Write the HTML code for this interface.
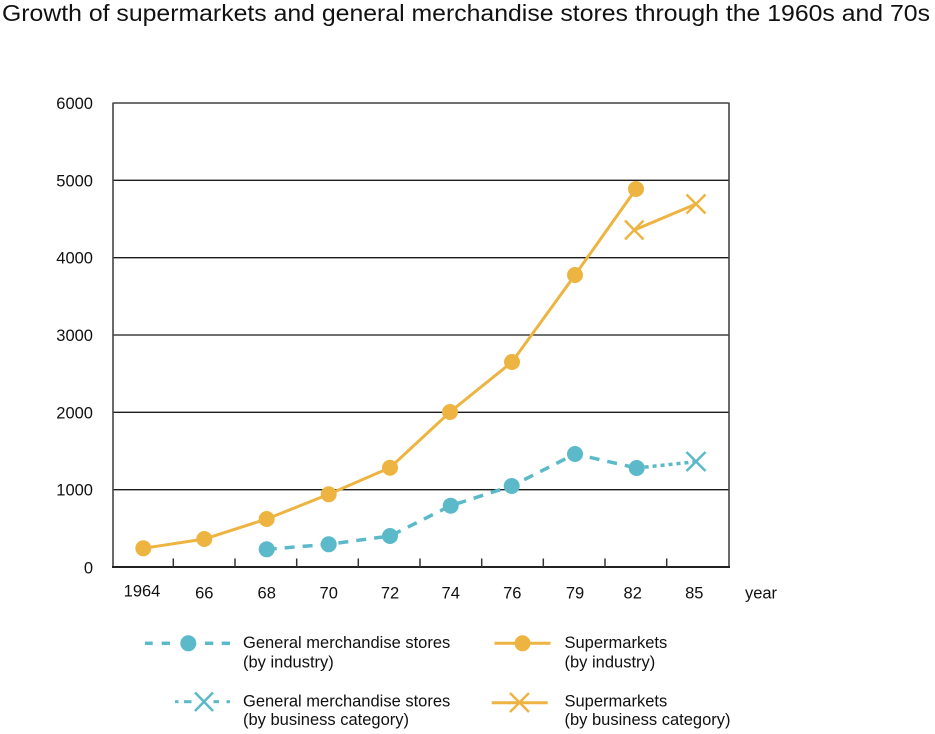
<!DOCTYPE html>
<html>
<head>
<meta charset="utf-8">
<style>
  html, body { margin: 0; padding: 0; background: #fff; }
  svg { display: block; }
  text { font-family: "Liberation Sans", Arial, sans-serif; fill: #111; }
</style>
</head>
<body>
<svg width="935" height="734" viewBox="0 0 935 734" xmlns="http://www.w3.org/2000/svg">
  <rect x="0" y="0" width="935" height="734" fill="#fff"/>
  <!-- Title -->
  <text x="2" y="21" font-size="23" textLength="928" lengthAdjust="spacingAndGlyphs">Growth of supermarkets and general merchandise stores through the 1960s and 70s</text>

  <!-- Grid lines -->
  <g stroke="#1a1a1a" stroke-width="1.3">
    <line x1="113" y1="103" x2="729" y2="103"/>
    <line x1="113" y1="180.3" x2="729" y2="180.3"/>
    <line x1="113" y1="257.7" x2="729" y2="257.7"/>
    <line x1="113" y1="335" x2="729" y2="335"/>
    <line x1="113" y1="412.3" x2="729" y2="412.3"/>
    <line x1="113" y1="489.7" x2="729" y2="489.7"/>
  </g>
  <!-- Frame sides -->
  <g stroke="#444" stroke-width="1.6">
    <line x1="113" y1="102.5" x2="113" y2="567"/>
    <line x1="729" y1="102.5" x2="729" y2="567"/>
  </g>
  <!-- Bottom axis -->
  <line x1="112" y1="567" x2="730" y2="567" stroke="#222" stroke-width="2"/>
  <!-- Ticks -->
  <g stroke="#333" stroke-width="1.5">
    <line x1="173.3" y1="567" x2="173.3" y2="558.5"/>
    <line x1="235" y1="567" x2="235" y2="558.5"/>
    <line x1="296.7" y1="567" x2="296.7" y2="558.5"/>
    <line x1="358.3" y1="567" x2="358.3" y2="558.5"/>
    <line x1="420" y1="567" x2="420" y2="558.5"/>
    <line x1="481.7" y1="567" x2="481.7" y2="558.5"/>
    <line x1="543.3" y1="567" x2="543.3" y2="558.5"/>
    <line x1="605" y1="567" x2="605" y2="558.5"/>
    <line x1="666.7" y1="567" x2="666.7" y2="558.5"/>
  </g>

  <!-- Y labels -->
  <g font-size="16.5" text-anchor="end">
    <text x="93" y="109">6000</text>
    <text x="93" y="186.3">5000</text>
    <text x="93" y="263.7">4000</text>
    <text x="93" y="341">3000</text>
    <text x="93" y="418.3">2000</text>
    <text x="93" y="495.7">1000</text>
    <text x="93" y="573.5">0</text>
  </g>

  <!-- X labels -->
  <g font-size="16.5" text-anchor="middle">
    <text x="142" y="596.5">1964</text>
    <text x="204.3" y="598.5">66</text>
    <text x="266.7" y="598.5">68</text>
    <text x="328.7" y="598.5">70</text>
    <text x="390" y="598.5">72</text>
    <text x="450.7" y="598.5">74</text>
    <text x="512.3" y="598.5">76</text>
    <text x="575" y="598.5">79</text>
    <text x="632.7" y="598.5">82</text>
    <text x="694.3" y="598.5">85</text>
    <text x="761" y="598.5">year</text>
  </g>

  <!-- Blue series (general merchandise, by industry) -->
  <polyline points="266.7,549.3 328.7,544.3 390,536 450.7,505.7 511.7,486 575,454 636.7,468"
            fill="none" stroke="#5BB9CA" stroke-width="3.5" stroke-dasharray="10,8"/>
  <line x1="636.7" y1="468" x2="696" y2="461.7" stroke="#5BB9CA" stroke-width="3.5" stroke-dasharray="4,4"/>
  <g fill="#5BB9CA">
    <circle cx="266.7" cy="549.3" r="8"/>
    <circle cx="328.7" cy="544.3" r="8"/>
    <circle cx="390" cy="536" r="8"/>
    <circle cx="450.7" cy="505.7" r="8"/>
    <circle cx="511.7" cy="486" r="8"/>
    <circle cx="575" cy="454" r="8"/>
    <circle cx="636.7" cy="468" r="8"/>
  </g>
  <g stroke="#5BB9CA" stroke-width="2.5">
    <line x1="686.5" y1="452" x2="705.5" y2="471"/>
    <line x1="705.5" y1="452" x2="686.5" y2="471"/>
  </g>

  <!-- Orange series (supermarkets, by industry) -->
  <polyline points="143.3,548.3 204.3,539 266.7,519 328.7,494.3 390,467.7 450,412 512,362 575,275 636,189"
            fill="none" stroke="#EDB441" stroke-width="3"/>
  <g fill="#EDB441">
    <circle cx="143.3" cy="548.3" r="8"/>
    <circle cx="204.3" cy="539" r="8"/>
    <circle cx="266.7" cy="519" r="8"/>
    <circle cx="328.7" cy="494.3" r="8"/>
    <circle cx="390" cy="467.7" r="8"/>
    <circle cx="450" cy="412" r="8"/>
    <circle cx="512" cy="362" r="8"/>
    <circle cx="575" cy="275" r="8"/>
    <circle cx="636" cy="189" r="8"/>
  </g>
  <!-- Orange X series -->
  <line x1="634.3" y1="230" x2="696" y2="204" stroke="#EDB441" stroke-width="3"/>
  <g stroke="#EDB441" stroke-width="2.5">
    <line x1="625" y1="220.5" x2="643.5" y2="239.5"/>
    <line x1="643.5" y1="220.5" x2="625" y2="239.5"/>
    <line x1="686.5" y1="194.5" x2="705.5" y2="213.5"/>
    <line x1="705.5" y1="194.5" x2="686.5" y2="213.5"/>
  </g>

  <!-- Legend -->
  <!-- Row 1 left: blue dashed circle -->
  <g stroke="#5BB9CA" stroke-width="3.5">
    <line x1="145" y1="643.3" x2="152.7" y2="643.3"/>
    <line x1="161.7" y1="643.3" x2="170" y2="643.3"/>
    <line x1="205" y1="643.3" x2="213.3" y2="643.3"/>
    <line x1="221.7" y1="643.3" x2="230" y2="643.3"/>
  </g>
  <circle cx="188.3" cy="643.3" r="8" fill="#5BB9CA"/>
  <!-- Row 2 left: blue dotted X -->
  <g stroke="#5BB9CA" stroke-width="3">
    <line x1="175" y1="701.7" x2="178.5" y2="701.7"/>
    <line x1="184" y1="701.7" x2="191.5" y2="701.7"/>
    <line x1="213.5" y1="701.7" x2="219" y2="701.7"/>
    <line x1="226.5" y1="701.7" x2="230" y2="701.7"/>
  </g>
  <g stroke="#5BB9CA" stroke-width="2.5">
    <line x1="195" y1="692.5" x2="213" y2="711"/>
    <line x1="213" y1="692.5" x2="195" y2="711"/>
  </g>
  <!-- Row 1 right: orange solid circle -->
  <line x1="494.5" y1="643.3" x2="550.5" y2="643.3" stroke="#EDB441" stroke-width="3"/>
  <circle cx="522.5" cy="643.3" r="8" fill="#EDB441"/>
  <!-- Row 2 right: orange X -->
  <line x1="491.7" y1="702.7" x2="547.7" y2="702.7" stroke="#EDB441" stroke-width="3"/>
  <g stroke="#EDB441" stroke-width="2.5">
    <line x1="510" y1="693" x2="529" y2="712"/>
    <line x1="529" y1="693" x2="510" y2="712"/>
  </g>

  <g font-size="16.5">
    <text x="243" y="648">General merchandise stores</text>
    <text x="243" y="667.5">(by industry)</text>
    <text x="243" y="706.5">General merchandise stores</text>
    <text x="243" y="725">(by business category)</text>
    <text x="564.5" y="648">Supermarkets</text>
    <text x="564.5" y="667.5">(by industry)</text>
    <text x="564.5" y="706.5">Supermarkets</text>
    <text x="564.5" y="725">(by business category)</text>
  </g>
</svg>
</body>
</html>
